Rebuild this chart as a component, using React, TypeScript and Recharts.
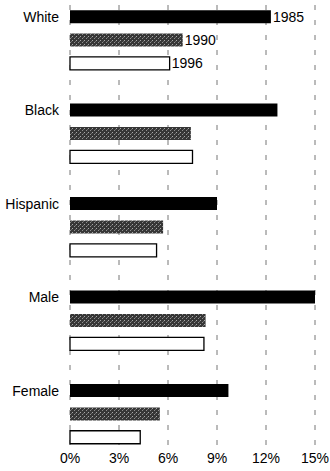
import { Bar, BarChart, CartesianGrid, LabelList, XAxis, YAxis } from "recharts";

// Share of each group, by year (%).
const GROUPS = ["White", "Black", "Hispanic", "Male", "Female"];
const YEARS = ["1985", "1990", "1996"] as const;
const RATE_1985 = [12.3, 12.7, 9.0, 15.0, 9.7];
const RATE_1990 = [6.9, 7.4, 5.7, 8.3, 5.5];
const RATE_1996 = [6.1, 7.5, 5.3, 8.2, 4.3];
const X_TICKS = [0, 3, 6, 9, 12, 15];

const FONT = '"Liberation Sans", Arial, Helvetica, sans-serif';

type Row = {
  key: string;
  group: string;
  year: string;
  y1985?: number;
  y1990?: number;
  y1996?: number;
};

// One row per bar, plus an empty spacer row between groups. All three series
// share a stack so each row's single value fills the whole band.
const rows: Row[] = [];
GROUPS.forEach((g, i) => {
  rows.push({ key: `${g}-1985`, group: g, year: "1985", y1985: RATE_1985[i] });
  rows.push({ key: `${g}-1990`, group: g, year: "1990", y1990: RATE_1990[i] });
  rows.push({ key: `${g}-1996`, group: g, year: "1996", y1996: RATE_1996[i] });
  if (i < GROUPS.length - 1) rows.push({ key: `${g}-gap`, group: g, year: "" });
});

function groupTick(key: string): string {
  const [g, y] = key.split("-");
  return y === "1985" ? g : "";
}

// Year labels only next to the first group's bars (acts as the legend).
const legendYear = (r: Row) => (r.group === GROUPS[0] ? r.year : "");

function YearLabel(props: any) {
  const { x, y, width, height, value } = props;
  if (!value) return null;
  return (
    <text x={Number(x) + Number(width) + 2} y={Number(y) + Number(height) / 2} dy="0.36em" fontSize={14} fontFamily={FONT} fill="#000">
      {value}
    </text>
  );
}

export default function App() {
  return (
    <div style={{ position: "absolute", left: 0, top: 0, background: "#fff" }}>
      <BarChart
        width={330}
        height={471}
        data={rows}
        layout="vertical"
        margin={{ top: 5, right: 15, bottom: 0, left: 0 }}
        barCategoryGap="22%"
      >
        <defs>
          <pattern id="speckle" width="4" height="4" patternUnits="userSpaceOnUse">
            <rect width="4" height="4" fill="#363636" />
            <rect x="0" y="0" width="1" height="1" fill="#a8a8a8" />
            <rect x="2" y="2" width="1" height="1" fill="#909090" />
            <rect x="3" y="1" width="1" height="1" fill="#6a6a6a" />
          </pattern>
        </defs>
        <CartesianGrid horizontal={false} stroke="#666" strokeWidth={0.9} strokeDasharray="5 10" />
        <XAxis
          type="number"
          domain={[0, 15]}
          ticks={X_TICKS}
          tickFormatter={(v: number) => `${v}%`}
          axisLine={false}
          tickLine={false}
          tickSize={0}
          tickMargin={4}
          height={22}
          interval={0}
          tick={{ fill: "#000", fontSize: 14, fontFamily: FONT }}
        />
        <YAxis
          type="category"
          dataKey="key"
          width={70}
          axisLine={false}
          tickLine={false}
          tickSize={0}
          tickMargin={11}
          interval={0}
          tickFormatter={groupTick}
          tick={{ fill: "#000", fontSize: 14, fontFamily: FONT }}
        />
        <Bar dataKey="y1985" name={YEARS[0]} stackId="a" fill="#000" isAnimationActive={false}>
          <LabelList dataKey={legendYear} content={YearLabel} />
        </Bar>
        <Bar dataKey="y1990" name={YEARS[1]} stackId="a" fill="url(#speckle)" isAnimationActive={false}>
          <LabelList dataKey={legendYear} content={YearLabel} />
        </Bar>
        <Bar dataKey="y1996" name={YEARS[2]} stackId="a" fill="#fff" stroke="#000" strokeWidth={1.3} isAnimationActive={false}>
          <LabelList dataKey={legendYear} content={YearLabel} />
        </Bar>
      </BarChart>
    </div>
  );
}
